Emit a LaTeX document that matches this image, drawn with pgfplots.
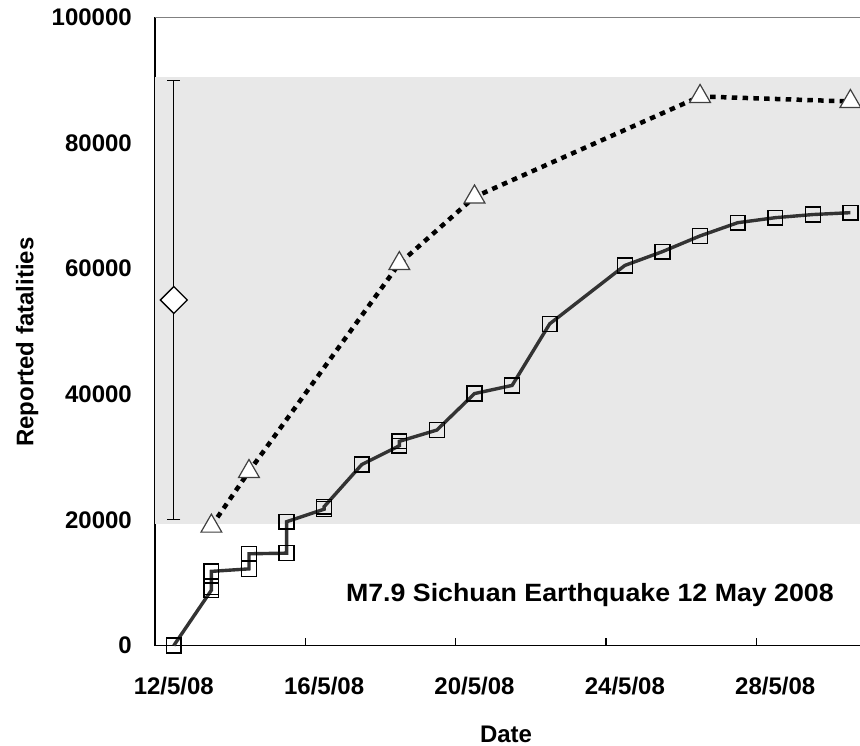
\documentclass[border=0pt]{standalone}
\usepackage{fontspec}
\setmainfont{Liberation Sans}
\newfontfamily\annfont{Liberation Sans}[FakeStretch=1.07]
\usepackage{pgfplots}
\pgfplotsset{compat=1.18}
\definecolor{band}{RGB}{232,232,232}
\definecolor{lineg}{RGB}{51,51,51}
\definecolor{trig}{RGB}{64,64,64}
\newcommand{\tickfont}{\bfseries\fontsize{24bp}{28bp}\selectfont}
\begin{document}
\begin{tikzpicture}
\path[use as bounding box] (0,0) rectangle (860bp,746bp);
\begin{axis}[
  at={(155bp,100.5bp)}, anchor=south west,
  scale only axis, width=714.2bp, height=628.2bp,
  xmin=11.5, xmax=30.5, ymin=0, ymax=100000,
  axis x line*=bottom, axis y line*=left,
  axis line style={line width=1.3bp, black},
  tick align=inside,
  major tick length=8bp,
  tick style={black, line width=1.2bp},
  ytick={0,20000,40000,60000,80000,100000},
  scaled y ticks=false,
  yticklabel style={font=\tickfont, anchor=east, inner sep=0pt, xshift=-23bp,
    /pgf/number format/fixed, /pgf/number format/precision=0,
    /pgf/number format/1000 sep={}, /pgf/number format/assume math mode=true},
  xtick={15.5,19.5,23.5,27.5}, xticklabels={},
  extra x ticks={12,16,20,24,28},
  extra x tick labels={12/5/08,16/5/08,20/5/08,24/5/08,28/5/08},
  extra x tick style={major tick length=0pt},
  xticklabel style={font=\tickfont, anchor=north, inner sep=0pt, yshift=-31.5bp},
  xlabel={Date},
  xlabel style={at={(axis description cs:0.4915,-0.1547)}, anchor=base, inner sep=0pt, font=\bfseries\fontsize{24bp}{28bp}\selectfont},
  ylabel={Reported fatalities},
  ylabel style={at={(axis description cs:-0.1704,0.4831)}, anchor=base, inner sep=0pt, font=\bfseries\fontsize{24bp}{28bp}\selectfont},
  clip=false,
]
% shaded band
\addplot[fill=band, draw=none, forget plot] coordinates {(11.5,19300) (30.5,19300) (30.5,90500) (11.5,90500)} -- cycle;
% error bar of estimate
\addplot[draw=none, mark=none, forget plot,
  error bars/.cd, y dir=both, y explicit,
  error bar style={black, line width=0.9bp},
  error mark options={black, line width=0.9bp, mark size=6.5bp, rotate=90}]
  coordinates {(12,55000) +- (0,35000)};
% diamond estimate
\addplot[only marks, mark=square*, mark size=9.5bp,
  mark options={fill=white, draw=black, line width=1.3bp, rotate=45}]
  coordinates {(12,55000)};
% triangle series marks
\addplot[only marks, mark=triangle*, mark size=12bp,
  mark options={fill=white, draw=trig, line width=1.2bp}]
  coordinates {(13,19000) (14,27700) (18,60800) (20,71400) (26,87400) (30,86600)};
% dotted line
\addplot[black, line width=4.5bp, dash pattern=on 5.5bp off 5.3bp, mark=none]
  coordinates {(13,19000) (14,27700) (18,60800) (20,71400) (26,87400) (30,86600)};
% square series
\addplot[lineg, line width=3.4bp, mark=square, mark size=7.4bp,
  mark options={draw=black, line width=1.4bp, solid}]
  coordinates {
  (12,0) (13,8800) (13,9300) (13,11800) (14,12200) (14,14600)
  (15,14700) (15,19700) (16,21700) (16,22100) (17,28800)
  (18,31800) (18,32500) (19,34300) (20,40100) (21,41400)
  (22,51200) (24,60500) (25,62700) (26,65200) (27,67300)
  (28,68100) (29,68600) (30,68900)};
\draw[gray, line width=0.8bp] (rel axis cs:0,1) -- (rel axis cs:1,1);
\node[font=\annfont\bfseries\fontsize{25bp}{30bp}\selectfont, anchor=base, inner sep=0pt]
  at (axis cs:23.07,6970) {M7.9 Sichuan Earthquake 12 May 2008};
\end{axis}
\end{tikzpicture}
\end{document}
